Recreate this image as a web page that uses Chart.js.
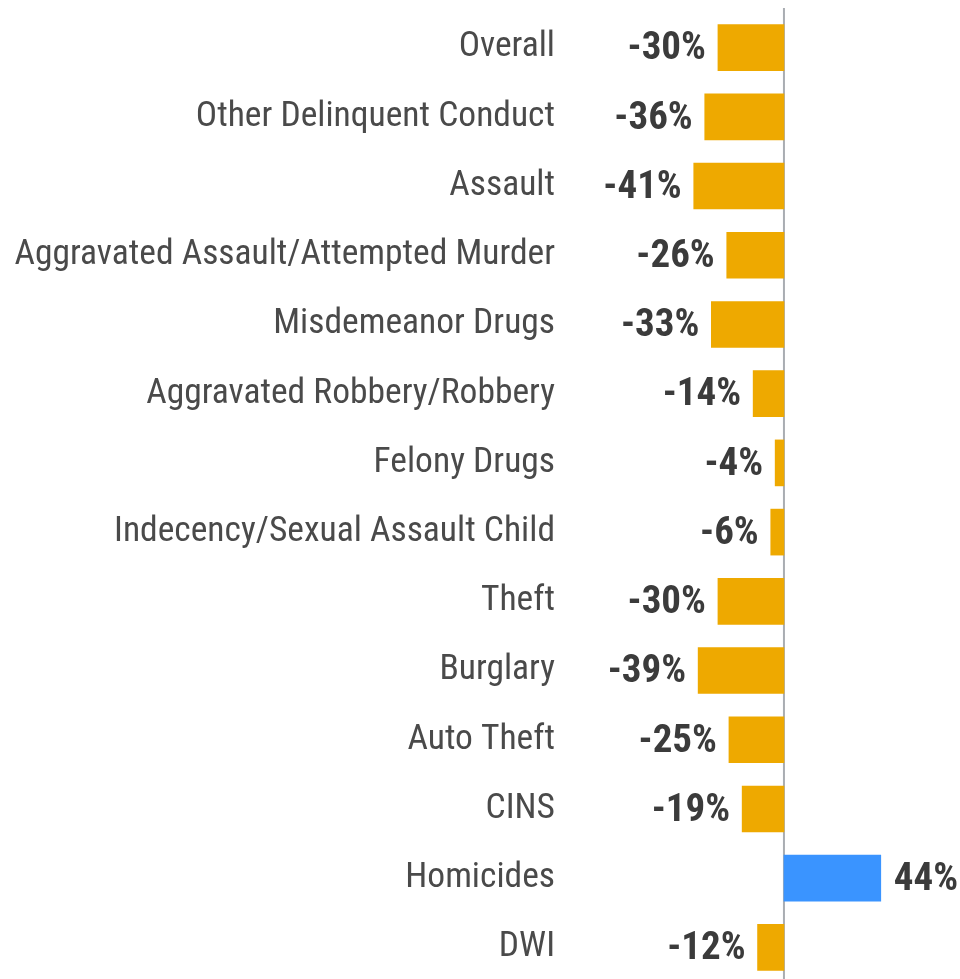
<!DOCTYPE html>
<html>
<head>
<meta charset="utf-8">
<script src="https://cdn.jsdelivr.net/npm/chart.js@4"></script>
<style>
html,body{margin:0;padding:0;background:#fff;overflow:hidden;}
#wrap{width:960px;height:982px;position:relative;}
</style>
</head>
<body>
<div id="wrap"><canvas id="c"></canvas></div>
<script>
const categories = ["Overall","Other Delinquent Conduct","Assault","Aggravated Assault/Attempted Murder","Misdemeanor Drugs","Aggravated Robbery/Robbery","Felony Drugs","Indecency/Sexual Assault Child","Theft","Burglary","Auto Theft","CINS","Homicides","DWI"];
const changePct = [-30,-36,-41,-26,-33,-14,-4,-6,-30,-39,-25,-19,44,-12];

const FONT = "'Liberation Sans Narrow', 'Roboto Condensed', Roboto, sans-serif";

const zeroLine = {
  id: 'zeroLine',
  beforeDatasetsDraw(chart) {
    const ctx = chart.ctx;
    const x0 = chart.scales.x.getPixelForValue(0);
    ctx.save();
    ctx.strokeStyle = '#a9adb2';
    ctx.lineWidth = 2;
    ctx.beginPath();
    ctx.moveTo(x0, 8);
    ctx.lineTo(x0, chart.height);
    ctx.stroke();
    ctx.restore();
  }
};

const valueLabels = {
  id: 'valueLabels',
  afterDatasetsDraw(chart) {
    const ctx = chart.ctx;
    const meta = chart.getDatasetMeta(0);
    ctx.save();
    ctx.font = "bold 39px " + FONT;
    ctx.fillStyle = '#3b3b3b';
    ctx.textBaseline = 'middle';
    meta.data.forEach((bar, i) => {
      const v = changePct[i];
      const txt = v + '%';
      if (v < 0) { ctx.textAlign = 'right'; ctx.fillText(txt, bar.x - 12, bar.y + 2); }
      else { ctx.textAlign = 'left'; ctx.fillText(txt, bar.x + 13, bar.y + 2); }
    });
    ctx.restore();
  }
};

new Chart(document.getElementById('c'), {
  type: 'bar',
  data: {
    labels: categories,
    datasets: [{
      data: changePct,
      backgroundColor: changePct.map(v => v >= 0 ? '#3a94ff' : '#eea900'),
      borderWidth: 0,
      barThickness: 46
    }]
  },
  options: {
    indexAxis: 'y',
    responsive: true,
    maintainAspectRatio: false,
    animation: false,
    layout: { padding: { top: 13, bottom: 0, left: 0, right: 0 } },
    plugins: { legend: { display: false }, tooltip: { enabled: false } },
    scales: {
      x: {
        display: false,
        min: -99.5, max: 80
      },
      y: {
        afterFit(scale) { scale.width = 565; scale.paddingTop = 0; scale.paddingBottom = 0; },
        border: { display: false },
        grid: { display: false, drawTicks: false },
        ticks: {
          padding: 10,
          color: '#4a4a4a',
          font: { family: FONT, size: 35.5 }
        }
      }
    }
  },
  plugins: [zeroLine, valueLabels]
});
</script>
</body>
</html>
